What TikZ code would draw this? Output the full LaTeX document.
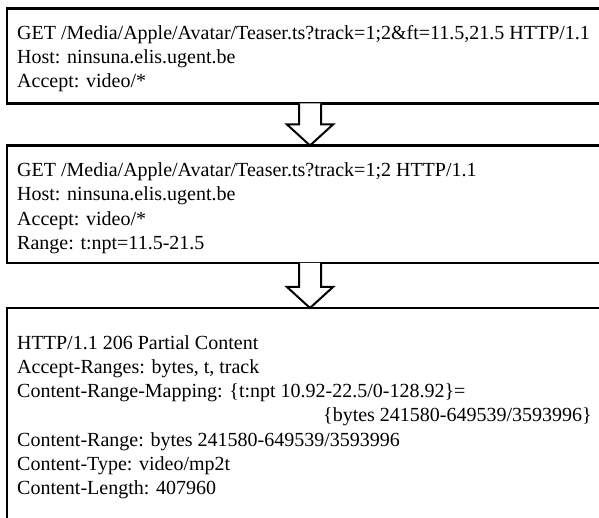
\documentclass[tikz,border=0pt]{standalone}
\usepackage{fontspec}
\setmainfont{Liberation Serif}
\usetikzlibrary{calc}
\tikzset{
  box/.style={draw=black, line width=2.3pt, rectangle, inner sep=0pt, outer sep=0pt, anchor=north west},
  ln/.style={anchor=base west, inner sep=0pt, font=\fontsize{20}{24}\selectfont},
  lnr/.style={anchor=base east, inner sep=0pt, font=\fontsize{20}{24}\selectfont},
  blockarrow/.style={draw=black, line width=2pt, line join=miter, fill=white}
}
\begin{document}
\begin{tikzpicture}[x=1pt, y=-1pt]
\clip (0,0) rectangle (599,518);
\fill[white] (0,0) rectangle (599,518);
% boxes
\node[box, minimum width=640pt, minimum height=95pt] (b1) at (7,8.5) {};
\node[box, minimum width=640pt, minimum height=117.5pt] (b2) at (7,145.5) {};
\node[box, minimum width=640pt, minimum height=260pt] (b3) at (7,308) {};
% text box 1
\node[ln] (l11) at (17,39.5) {GET /Media/Apple/Avatar/Teaser.ts?track=1;2\&ft=11.5,21.5 HTTP/1.1};
\node[ln] (l12) at (17,63.7) {Host: ninsuna.elis.ugent.be};
\node[ln] (l13) at (17,87.9) {Accept: video/*};
% text box 2
\node[ln] (l21) at (17,176.7) {GET /Media/Apple/Avatar/Teaser.ts?track=1;2 HTTP/1.1};
\node[ln] (l22) at (17,200.9) {Host: ninsuna.elis.ugent.be};
\node[ln] (l23) at (17,225.1) {Accept: video/*};
\node[ln] (l24) at (17,249.3) {Range: t:npt=11.5-21.5};
% text box 3
\node[ln] (l31) at (17,349.3) {HTTP/1.1 206 Partial Content};
\node[ln] (l32) at (17,373.5) {Accept-Ranges: bytes, t, track};
\node[ln] (l33) at (17,397.7) {Content-Range-Mapping: \{t:npt 10.92-22.5/0-128.92\}=};
\node[lnr] (l34) at (592,421.9) {\{bytes 241580-649539/3593996\}};
\node[ln] (l35) at (17,446.1) {Content-Range: bytes 241580-649539/3593996};
\node[ln] (l36) at (17,470.3) {Content-Type: video/mp2t};
\node[ln] (l37) at (17,494.5) {Content-Length: 407960};
% arrows
\path (b1.south west) ++(303,0) coordinate (a1top);
\path (b2.north west) ++(303,0) coordinate (a1tip);
\path (b2.south west) ++(303,0) coordinate (a2top);
\path (b3.north west) ++(303,0) coordinate (a2tip);
\draw[blockarrow] let \p1=(a1top), \p2=(a1tip) in
  (\x1-11pt,\y1) -- (\x1-11pt,\y2+21pt) -- (\x2-23pt,\y2+21pt) -- (\x2,\y2)
  -- (\x2+23pt,\y2+21pt) -- (\x1+11pt,\y2+21pt) -- (\x1+11pt,\y1);
\draw[blockarrow] let \p1=(a2top), \p2=(a2tip) in
  (\x1-11pt,\y1) -- (\x1-11pt,\y2+21pt) -- (\x2-23pt,\y2+21pt) -- (\x2,\y2)
  -- (\x2+23pt,\y2+21pt) -- (\x1+11pt,\y2+21pt) -- (\x1+11pt,\y1);
\end{tikzpicture}
\end{document}
